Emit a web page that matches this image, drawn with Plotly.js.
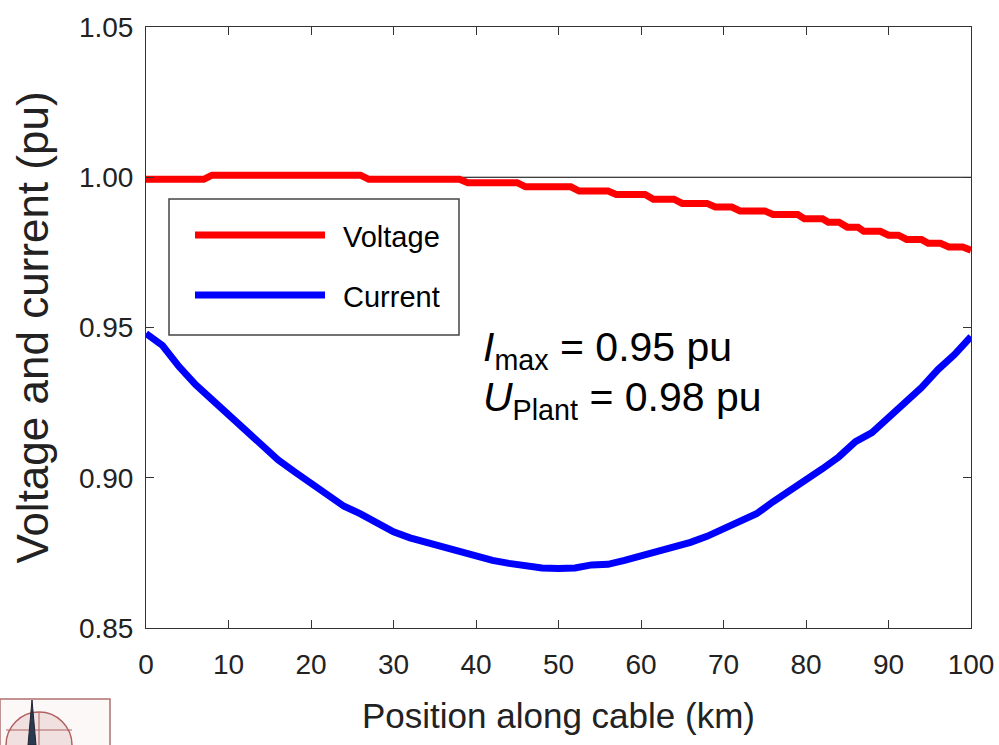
<!DOCTYPE html>
<html>
<head>
<meta charset="utf-8">
<script src="https://cdn.plot.ly/plotly-3.0.1.min.js"></script>
<style>html,body{margin:0;padding:0;background:#fff;}#chart{width:999px;height:745px;}</style>
</head>
<body>
<div id="chart"></div>
<script>
// ---- data ----
var voltKm = [0, 7, 8, 26, 27, 38, 39, 45, 46, 51.5, 52.5, 56, 57, 60.5, 61.5, 64, 65, 68, 69, 71, 72, 75, 76, 79, 79.8, 82, 82.7, 84, 85, 86.3, 87, 89, 90, 91.2, 92.2, 94, 94.8, 96.3, 97.3, 99, 100];
var voltPu = [0.9993, 0.9993, 1.0007, 1.0007, 0.9993, 0.9993, 0.9982, 0.9982, 0.9968, 0.9968, 0.9954, 0.9954, 0.9943, 0.9943, 0.9927, 0.9927, 0.9913, 0.9913, 0.9901, 0.9901, 0.9888, 0.9888, 0.9876, 0.9876, 0.9862, 0.9862, 0.985, 0.985, 0.9834, 0.9834, 0.982, 0.982, 0.9807, 0.9807, 0.9793, 0.9793, 0.978, 0.978, 0.9768, 0.9768, 0.9757];

var currKm = [0, 2, 4, 6, 8, 10, 12, 14, 16, 18, 20, 22, 24, 26, 28, 30, 32, 34, 36, 38, 40, 42, 44, 46, 48, 50, 52, 54, 56, 58, 60, 62, 64, 66, 68, 70, 72, 74, 76, 78, 80, 82, 84, 86, 88, 90, 92, 94, 96, 98, 100];
var currPu = [0.948, 0.944, 0.937, 0.931, 0.926, 0.921, 0.916, 0.911, 0.906, 0.902, 0.898, 0.894, 0.8905, 0.888, 0.885, 0.882, 0.880, 0.8785, 0.8765, 0.875, 0.874, 0.8725, 0.8715, 0.8705, 0.870, 0.8698, 0.870, 0.871, 0.8712, 0.8725, 0.874, 0.8752, 0.877, 0.8785, 0.8805, 0.883, 0.8855, 0.888, 0.892, 0.8955, 0.899, 0.903, 0.907, 0.912, 0.915, 0.920, 0.925, 0.930, 0.936, 0.941, 0.947];

var refKm = [0, 100];
var refPu = [1.0, 1.0];

var seriesNames = ["Voltage", "Current"];
var seriesColors = ["#ff0000", "#0000ff"];
var xTicks = [0, 10, 20, 30, 40, 50, 60, 70, 80, 90, 100];
var yTicks = [0.85, 0.90, 0.95, 1.00, 1.05];
var annoLines = ["<i>I</i><sub>max</sub> = 0.95 pu", "<i>U</i><sub>Plant</sub> = 0.98 pu"];

// ---- layout geometry (pixels) ----
var W = 999, H = 745;
var M = {l: 146, r: 28, t: 27, b: 117};
var PW = W - M.l - M.r, PH = H - M.t - M.b;
function px2x(p) { return (p - M.l) / PW; }
function px2y(p) { return (H - M.b - p) / PH; }

var FONT = '"Liberation Sans", Arial, Helvetica, sans-serif';

var traces = [
  {x: refKm, y: refPu, mode: 'lines', line: {color: '#000000', width: 1}, showlegend: false, hoverinfo: 'skip'},
  {x: voltKm, y: voltPu, mode: 'lines', name: seriesNames[0], line: {color: seriesColors[0], width: 7}, showlegend: false},
  {x: currKm, y: currPu, mode: 'lines', name: seriesNames[1], line: {color: seriesColors[1], width: 7}, showlegend: false}
];

var shapes = [
  // legend box
  {type: 'rect', xref: 'paper', yref: 'paper', x0: px2x(169), x1: px2x(459), y0: px2y(335), y1: px2y(199),
   line: {color: '#444', width: 1.5}, fillcolor: 'rgba(255,255,255,1)', layer: 'above'},
  {type: 'line', xref: 'paper', yref: 'paper', x0: px2x(195), x1: px2x(325), y0: px2y(235), y1: px2y(235),
   line: {color: seriesColors[0], width: 7}, layer: 'above'},
  {type: 'line', xref: 'paper', yref: 'paper', x0: px2x(195), x1: px2x(325), y0: px2y(295), y1: px2y(295),
   line: {color: seriesColors[1], width: 7}, layer: 'above'},
  // logo at bottom-left corner
  {type: 'rect', xref: 'paper', yref: 'paper', x0: px2x(0), x1: px2x(110), y0: px2y(746), y1: px2y(699),
   line: {color: '#b07070', width: 1.5}, fillcolor: '#fdf8f8'},
  {type: 'circle', xref: 'paper', yref: 'paper', x0: px2x(6), x1: px2x(72), y0: px2y(778), y1: px2y(712),
   line: {color: '#b06060', width: 1.5}, fillcolor: 'rgba(230,200,200,0.5)'},
  {type: 'line', xref: 'paper', yref: 'paper', x0: px2x(6), x1: px2x(72), y0: px2y(730), y1: px2y(730),
   line: {color: '#b06060', width: 1}},
  {type: 'line', xref: 'paper', yref: 'paper', x0: px2x(39), x1: px2x(39), y0: px2y(745), y1: px2y(712),
   line: {color: '#b06060', width: 1}},
  {type: 'path', xref: 'paper', yref: 'paper',
   path: 'M' + px2x(28) + ',' + px2y(745) + ' L' + px2x(32) + ',' + px2y(700) + ' L' + px2x(36) + ',' + px2y(745) + ' Z',
   line: {color: '#223', width: 1}, fillcolor: '#2a3a50'}
];

var annotations = [
  {xref: 'paper', yref: 'paper', x: px2x(341), y: px2y(237), xanchor: 'left', yanchor: 'middle', text: seriesNames[0],
   showarrow: false, font: {family: FONT, size: 29, color: '#000'}},
  {xref: 'paper', yref: 'paper', x: px2x(341), y: px2y(297), xanchor: 'left', yanchor: 'middle', text: seriesNames[1],
   showarrow: false, font: {family: FONT, size: 29, color: '#000'}},
  {xref: 'paper', yref: 'paper', x: px2x(481), y: px2y(350), xanchor: 'left', yanchor: 'middle', text: annoLines[0],
   showarrow: false, font: {family: FONT, size: 41, color: '#000'}},
  {xref: 'paper', yref: 'paper', x: px2x(481), y: px2y(400), xanchor: 'left', yanchor: 'middle', text: annoLines[1],
   showarrow: false, font: {family: FONT, size: 41, color: '#000'}}
];

var layout = {
  width: W, height: H,
  margin: M,
  paper_bgcolor: '#fff', plot_bgcolor: '#fff',
  showlegend: false,
  font: {family: FONT, color: '#222'},
  xaxis: {
    range: [0, 100], tickvals: xTicks, ticktext: xTicks.map(String),
    ticks: 'inside', ticklen: 8, tickcolor: '#333', tickwidth: 1,
    showline: true, linecolor: '#333', linewidth: 1, mirror: 'ticks',
    showgrid: false, zeroline: false,
    tickfont: {family: FONT, size: 28, color: '#222'},
    ticklabelstandoff: 11,
    title: {text: 'Position along cable (km)', font: {family: FONT, size: 35, color: '#222'}, standoff: 24}
  },
  yaxis: {
    range: [0.85, 1.05], tickvals: yTicks, ticktext: yTicks.map(function (v) { return v.toFixed(2); }),
    ticks: 'inside', ticklen: 8, tickcolor: '#333', tickwidth: 1,
    showline: true, linecolor: '#333', linewidth: 1, mirror: 'ticks',
    showgrid: false, zeroline: false,
    tickfont: {family: FONT, size: 28, color: '#222'},
    ticklabelstandoff: 6,
    title: {text: 'Voltage and current (pu)', font: {family: FONT, size: 44, color: '#222'}, standoff: 16}
  },
  shapes: shapes,
  annotations: annotations
};

Plotly.newPlot('chart', traces, layout, {displayModeBar: false, staticPlot: true});
</script>
</body>
</html>
